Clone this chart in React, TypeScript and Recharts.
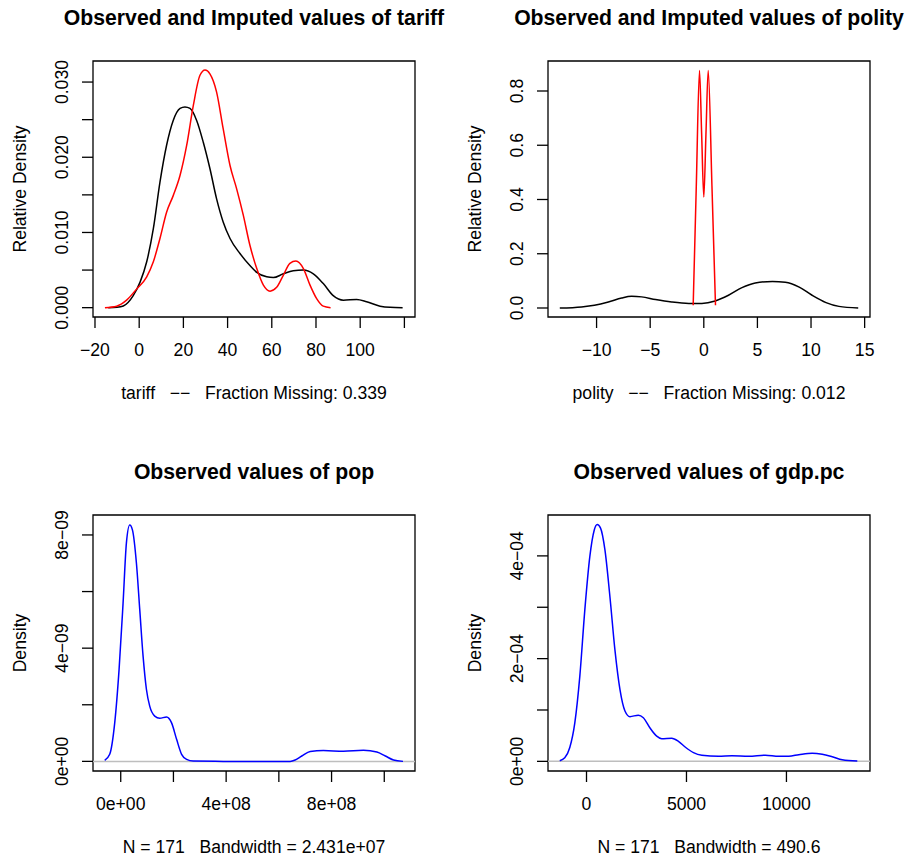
import React from 'react';
import { LineChart, Line, XAxis, YAxis, ReferenceArea, ReferenceLine } from 'recharts';

const FONT = '"Liberation Sans", Arial, Helvetica, sans-serif';

// ---------- Panel 1: tariff ----------
const tariffObsX = [-14, -10, -7.2, -2.7, 0.4, 3.4, 6.4, 9.4, 12.4, 15.4, 18.5, 20.7, 23, 26, 29, 32, 35, 38, 41.1, 45.6, 50.1, 53.2, 57.7, 60.7, 65.2, 69.7, 74.3, 78.8, 83.3, 87.8, 92.4, 98.4, 102.9, 109, 113.5, 119.2];
const tariffObsY = [0, 0.00005, 0.00022, 0.0016, 0.0034, 0.0061, 0.0105, 0.0167, 0.0216, 0.0249, 0.0265, 0.0267, 0.0265, 0.0249, 0.022, 0.0185, 0.0145, 0.0114, 0.0092, 0.0072, 0.0056, 0.0047, 0.0041, 0.004, 0.0045, 0.0049, 0.005, 0.0045, 0.0032, 0.0016, 0.001, 0.0011, 0.0008, 0.0002, 0.00004, 0];
const tariffImpX = [-15.5, -10.2, -5.7, -1.1, 3.4, 6.4, 9.4, 12.4, 15.4, 18.5, 21.5, 24.5, 27.5, 29.8, 32, 35, 38, 41.1, 44.1, 47.1, 50.1, 53.2, 56.2, 59.2, 62.2, 65.2, 68.2, 70.9, 74.3, 77.3, 80.3, 83.3, 86.6];
const tariffImpY = [0, 0.0002, 0.001, 0.0025, 0.0041, 0.0061, 0.0092, 0.0127, 0.0149, 0.0176, 0.0216, 0.0269, 0.0309, 0.0316, 0.0311, 0.0287, 0.0238, 0.0189, 0.0158, 0.0123, 0.0083, 0.0052, 0.003, 0.0022, 0.0027, 0.0043, 0.0059, 0.0062, 0.0052, 0.003, 0.0012, 0.0002, 0];
const tariffXTicks = [-20, 0, 20, 40, 60, 80, 100, 120];
const tariffXLabels = ['\u221220', '0', '20', '40', '60', '80', '100', ''];
const tariffYTicks = [0, 0.005, 0.01, 0.015, 0.02, 0.025, 0.03];
const tariffYLabels = ['0.000', '', '0.010', '', '0.020', '', '0.030'];

// ---------- Panel 2: polity ----------
const polityObsX = [-13.43, -11.4, -10.2, -8.9, -7.66, -6.73, -5.8, -4.5, -3, -1.4, -0.18, 1.07, 2.3, 3.56, 4.8, 6.4, 7.6, 8.9, 10.1, 11.4, 12.6, 14.4];
const polityObsY = [0, 0.004, 0.01, 0.022, 0.037, 0.043, 0.041, 0.031, 0.022, 0.017, 0.017, 0.026, 0.047, 0.075, 0.092, 0.098, 0.095, 0.077, 0.047, 0.02, 0.006, 0];
const polityImpX = [-0.99, -0.7, -0.4, -0.2, 0.0, 0.2, 0.41, 0.76, 1.09];
const polityImpY = [0.01, 0.45, 0.876, 0.64, 0.409, 0.64, 0.876, 0.45, 0.01];
const polityXTicks = [-10, -5, 0, 5, 10, 15];
const polityXLabels = ['\u221210', '\u22125', '0', '5', '10', '15'];
const polityYTicks = [0, 0.2, 0.4, 0.6, 0.8];
const polityYLabels = ['0.0', '0.2', '0.4', '0.6', '0.8'];

// ---------- Panel 3: pop ----------
const popX = [-0.608e8, -0.418e8, -0.228e8, -0.063e8, 0.089e8, 0.215e8, 0.342e8, 0.444e8, 0.596e8, 0.722e8, 0.849e8, 0.976e8, 1.1e8, 1.29e8, 1.48e8, 1.74e8, 1.93e8, 2.12e8, 2.31e8, 2.5e8, 2.75e8, 3.89e8, 6.43e8, 6.62e8, 6.87e8, 7.19e8, 7.69e8, 8.45e8, 9.21e8, 9.72e8, 10.04e8, 10.35e8, 10.71e8];
const popY = [0.035e-9, 0.25e-9, 1.36e-9, 3.24e-9, 5.59e-9, 7.71e-9, 8.35e-9, 8.18e-9, 7.0e-9, 5.36e-9, 3.71e-9, 2.54e-9, 1.95e-9, 1.6e-9, 1.52e-9, 1.57e-9, 1.36e-9, 0.78e-9, 0.25e-9, 0.07e-9, 0.01e-9, 0, 0, 0.05e-9, 0.19e-9, 0.35e-9, 0.38e-9, 0.36e-9, 0.39e-9, 0.33e-9, 0.19e-9, 0.05e-9, 0];
const popXTicks = [0, 2e8, 4e8, 6e8, 8e8, 1e9];
const popXLabels = ['0e+00', '', '4e+08', '', '8e+08', ''];
const popYTicks = [0, 2e-9, 4e-9, 6e-9, 8e-9];
const popYLabels = ['0e+00', '', '4e\u221209', '', '8e\u221209'];

// ---------- Panel 4: gdp.pc ----------
const gdpX = [-1338, -1087, -836, -585, -334, -84, 167, 385, 535, 702, 920, 1170, 1421, 1672, 1923, 2174, 2592, 2843, 3177, 3511, 3762, 4264, 4598, 4932, 5350, 5768, 6604, 7273, 8109, 8945, 9614, 10116, 10617, 11286, 11788, 12289, 12791, 13544];
const gdpY = [0.013e-4, 0.07e-4, 0.27e-4, 0.75e-4, 1.66e-4, 2.95e-4, 3.99e-4, 4.5e-4, 4.61e-4, 4.54e-4, 4.12e-4, 3.21e-4, 2.17e-4, 1.4e-4, 0.98e-4, 0.87e-4, 0.9e-4, 0.85e-4, 0.65e-4, 0.49e-4, 0.44e-4, 0.45e-4, 0.39e-4, 0.28e-4, 0.17e-4, 0.12e-4, 0.1e-4, 0.11e-4, 0.1e-4, 0.12e-4, 0.1e-4, 0.1e-4, 0.13e-4, 0.16e-4, 0.14e-4, 0.09e-4, 0.03e-4, 0.006e-4];
const gdpXTicks = [0, 5000, 10000];
const gdpXLabels = ['0', '5000', '10000'];
const gdpYTicks = [0, 1e-4, 2e-4, 3e-4, 4e-4];
const gdpYLabels = ['0e+00', '', '2e\u221204', '', '4e\u221204'];

const zip = (xs: number[], ys: number[]) => xs.map((x, i) => ({ x, y: ys[i] }));

type Series = { data: { x: number; y: number }[]; color: string };

type PanelProps = {
  left: number;
  top: number;
  title: string;
  xLabel: string;
  yLabel: string;
  xDomain: [number, number];
  yDomain: [number, number];
  xTicks: number[];
  xLabels: string[];
  yTicks: number[];
  yLabels: string[];
  series: Series[];
  zeroLine?: boolean;
};

const W = 455;
const H = 406;
const BOX_L = 93;
const BOX_R = 415;
const BOX_T = 61;
const BOX_B = 317;
const TICK = 11;

function makeXTick(ticks: number[], labels: string[]) {
  return (props: any) => {
    const { x, y, payload } = props;
    const idx = ticks.findIndex((t) => Math.abs(t - payload.value) < 1e-12 * Math.max(1, Math.abs(t)) || t === payload.value);
    const label = idx >= 0 ? labels[idx] : '';
    return (
      <text x={x} y={y + 22} textAnchor="middle" dominantBaseline="central" fontFamily={FONT} fontSize={17.6} fill="#000">
        {label}
      </text>
    );
  };
}

function makeYTick(ticks: number[], labels: string[]) {
  return (props: any) => {
    const { x, y, payload } = props;
    const idx = ticks.findIndex((t) => Math.abs(t - payload.value) <= Math.abs(t) * 1e-9 || t === payload.value);
    const label = idx >= 0 ? labels[idx] : '';
    const cx = x - 20;
    return (
      <text x={cx} y={y} transform={`rotate(-90, ${cx}, ${y})`} textAnchor="middle" dominantBaseline="central" fontFamily={FONT} fontSize={17.6} fill="#000">
        {label}
      </text>
    );
  };
}

function Panel(p: PanelProps) {
  return (
    <div style={{ position: 'absolute', left: p.left, top: p.top, width: W, height: H }}>
      <LineChart width={W} height={H} margin={{ top: BOX_T, right: W - BOX_R, bottom: 0, left: 0 }}>
        <XAxis
          type="number"
          dataKey="x"
          domain={p.xDomain}
          allowDataOverflow
          ticks={p.xTicks}
          interval={0}
          height={H - BOX_B}
          axisLine={false}
          tickLine={{ stroke: '#000', strokeWidth: 1.3 }}
          tickSize={TICK}
          tickMargin={0}
          tick={makeXTick(p.xTicks, p.xLabels)}
        />
        <YAxis
          type="number"
          domain={p.yDomain}
          allowDataOverflow
          ticks={p.yTicks}
          interval={0}
          width={BOX_L}
          axisLine={false}
          tickLine={{ stroke: '#000', strokeWidth: 1.3 }}
          tickSize={TICK}
          tickMargin={0}
          tick={makeYTick(p.yTicks, p.yLabels)}
        />
        {p.zeroLine && <ReferenceLine y={0} stroke="#bebebe" strokeWidth={1.5} />}
        {p.series.map((s, i) => (
          <Line
            key={i}
            data={s.data}
            dataKey="y"
            type="monotone"
            stroke={s.color}
            strokeWidth={1.5}
            dot={false}
            activeDot={false}
            isAnimationActive={false}
          />
        ))}
        <ReferenceArea
          x1={p.xDomain[0]}
          x2={p.xDomain[1]}
          y1={p.yDomain[0]}
          y2={p.yDomain[1]}
          fill="none"
          fillOpacity={0}
          stroke="#000"
          strokeWidth={1.3}
          ifOverflow="visible"
        />
      </LineChart>
      <div
        style={{
          position: 'absolute',
          left: 0,
          width: (BOX_L + BOX_R),
          top: 6,
          textAlign: 'center',
          fontFamily: FONT,
          fontWeight: 'bold',
          fontSize: 21.2,
          lineHeight: '24px',
          whiteSpace: 'nowrap',
        }}
      >
        {p.title}
      </div>
      <div
        style={{
          position: 'absolute',
          left: 0,
          width: BOX_L + BOX_R,
          top: 381,
          textAlign: 'center',
          fontFamily: FONT,
          fontSize: 17.6,
          lineHeight: '24px',
          whiteSpace: 'pre',
        }}
      >
        {p.xLabel}
      </div>
      <div
        style={{
          position: 'absolute',
          left: 19.5 - 150,
          width: 300,
          top: (BOX_T + BOX_B) / 2 - 12,
          height: 24,
          lineHeight: '24px',
          textAlign: 'center',
          fontFamily: FONT,
          fontSize: 17.6,
          transform: 'rotate(-90deg)',
          whiteSpace: 'nowrap',
        }}
      >
        {p.yLabel}
      </div>
    </div>
  );
}

export default function App() {
  return (
    <div style={{ position: 'absolute', left: 0, top: 0, width: 910, height: 860, background: '#fff', overflow: 'hidden' }}>
      <Panel
        left={0}
        top={0}
        title="Observed and Imputed values of tariff"
        xLabel={'tariff   \u2212\u2212   Fraction Missing: 0.339'}
        yLabel="Relative Density"
        xDomain={[-20.9, 124.8]}
        yDomain={[-0.00124, 0.0328]}
        xTicks={tariffXTicks}
        xLabels={tariffXLabels}
        yTicks={tariffYTicks}
        yLabels={tariffYLabels}
        series={[
          { data: zip(tariffObsX, tariffObsY), color: '#000000' },
          { data: zip(tariffImpX, tariffImpY), color: '#ff0000' },
        ]}
      />
      <Panel
        left={455}
        top={0}
        title="Observed and Imputed values of polity"
        xLabel={'polity   \u2212\u2212   Fraction Missing: 0.012'}
        yLabel="Relative Density"
        xDomain={[-14.53, 15.5]}
        yDomain={[-0.0332, 0.9106]}
        xTicks={polityXTicks}
        xLabels={polityXLabels}
        yTicks={polityYTicks}
        yLabels={polityYLabels}
        series={[
          { data: zip(polityObsX, polityObsY), color: '#000000' },
          { data: zip(polityImpX, polityImpY), color: '#ff0000' },
        ]}
      />
      <Panel
        left={0}
        top={454}
        title="Observed values of pop"
        xLabel={'N = 171   Bandwidth = 2.431e+07'}
        yLabel="Density"
        xDomain={[-1.052e8, 1.1166e9]}
        yDomain={[-3.4e-10, 8.705e-9]}
        xTicks={popXTicks}
        xLabels={popXLabels}
        yTicks={popYTicks}
        yLabels={popYLabels}
        zeroLine
        series={[{ data: zip(popX, popY), color: '#0000ff' }]}
      />
      <Panel
        left={455}
        top={454}
        title="Observed values of gdp.pc"
        xLabel={'N = 171   Bandwidth = 490.6'}
        yLabel="Density"
        xDomain={[-1926, 14179]}
        yDomain={[-1.877e-5, 4.796e-4]}
        xTicks={gdpXTicks}
        xLabels={gdpXLabels}
        yTicks={gdpYTicks}
        yLabels={gdpYLabels}
        zeroLine
        series={[{ data: zip(gdpX, gdpY), color: '#0000ff' }]}
      />
    </div>
  );
}
